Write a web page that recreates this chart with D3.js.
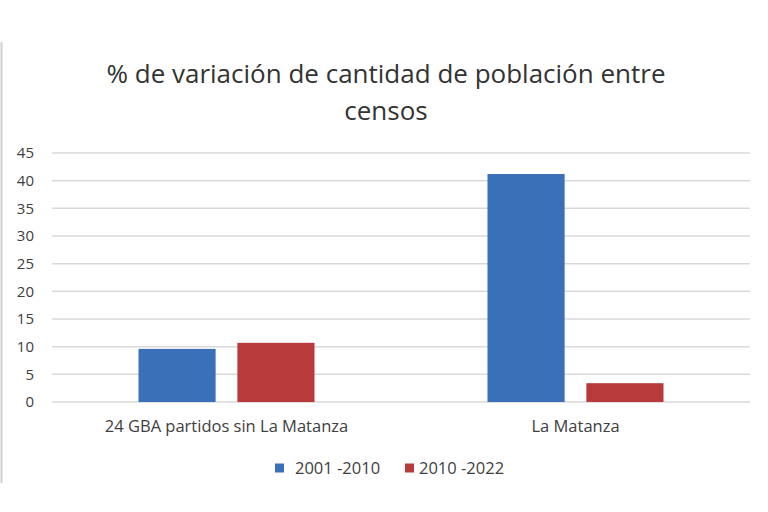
<!DOCTYPE html>
<html>
<head>
<meta charset="utf-8">
<script src="https://cdn.jsdelivr.net/npm/d3@7"></script>
<style>
  body { margin: 0; background: #fff; }
  text { font-family: "Open Sans", "Noto Sans", sans-serif; fill: #404040; }
</style>
</head>
<body>
<div id="chart"></div>
<script>
var categories = ["24 GBA partidos sin La Matanza", "La Matanza"];
var series = ["2001 -2010", "2010 -2022"];
var values2001 = [9.6, 41.2];
var values2010 = [10.7, 3.4];
var yTicks = [0, 5, 10, 15, 20, 25, 30, 35, 40, 45];
var colors = ["#3a70b7", "#b83a3a"];

var W = 768, H = 512;
var m = {top: 153, right: 18, bottom: 110, left: 52};
var width = W - m.left - m.right,
  height = H - m.top - m.bottom;

var svg = d3.select("#chart").append("svg")
  .attr("width", W)
  .attr("height", H);

// left frame line from the cropped chart border
svg.append("line")
  .attr("x1", 1.5).attr("x2", 1.5)
  .attr("y1", 42).attr("y2", 483)
  .attr("stroke", "#d0d0d0")
  .attr("stroke-width", 2);

var g = svg.append("g")
  .attr("transform", "translate(" + m.left + "," + m.top + ")");

var groupW = 176;
var x0 = d3.scaleBand().domain(categories).range([0, width]);
var x1 = d3.scaleBand().domain(series).range([0, groupW]).paddingInner(0.22);
var y = d3.scaleLinear().domain([0, 45]).range([height, 0]);

// gridlines
g.selectAll("line.grid")
  .data(yTicks)
  .enter().append("line")
  .attr("class", "grid")
  .attr("x1", 0).attr("x2", width)
  .attr("y1", function(d) { return y(d); })
  .attr("y2", function(d) { return y(d); })
  .attr("stroke", "#d9d9d9")
  .attr("stroke-width", 1.5);

// y labels
g.selectAll("text.ytick")
  .data(yTicks)
  .enter().append("text")
  .attr("class", "ytick")
  .attr("x", -18)
  .attr("y", function(d) { return y(d); })
  .attr("dy", "0.35em")
  .attr("text-anchor", "end")
  .style("font-size", "15px")
  .text(function(d) { return d; });

var data = categories.map(function(c, i) {
  return {cat: c, vals: [values2001[i], values2010[i]]};
});

var groups = g.selectAll("g.group")
  .data(data)
  .enter().append("g")
  .attr("class", "group")
  .attr("transform", function(d) {
    return "translate(" + (x0(d.cat) + (x0.bandwidth() - groupW) / 2) + ",0)";
  });

groups.selectAll("rect")
  .data(function(d) { return d.vals.map(function(v, j) { return {s: series[j], v: v, j: j}; }); })
  .enter().append("rect")
  .attr("x", function(d) { return x1(d.s); })
  .attr("width", x1.bandwidth())
  .attr("y", function(d) { return y(d.v); })
  .attr("height", function(d) { return y(0) - y(d.v); })
  .attr("fill", function(d) { return colors[d.j]; });

// category labels
g.selectAll("text.cat")
  .data(categories)
  .enter().append("text")
  .attr("class", "cat")
  .attr("x", function(d) { return x0(d) + x0.bandwidth() / 2; })
  .attr("y", height + 30)
  .attr("text-anchor", "middle")
  .style("font-size", "16.5px")
  .text(function(d) { return d; });

// title
var title = svg.append("text")
  .attr("text-anchor", "middle")
  .style("font-size", "26px")
  .style("fill", "#333");
title.append("tspan").attr("x", 386).attr("y", 83).text("% de variación de cantidad de población entre");
title.append("tspan").attr("x", 386).attr("y", 120).text("censos");

// legend
var legendX = [275, 405];
var legendTextDx = [20, 14];
var legend = svg.selectAll("g.legend")
  .data(series)
  .enter().append("g")
  .attr("class", "legend")
  .attr("transform", function(d, i) { return "translate(" + legendX[i] + ",468)"; });

legend.append("rect")
  .attr("x", 0).attr("y", -4.5)
  .attr("width", 9).attr("height", 9)
  .attr("fill", function(d, i) { return colors[i]; });

legend.append("text")
  .attr("x", function(d, i) { return legendTextDx[i]; })
  .attr("dy", "0.35em")
  .style("font-size", "16.5px")
  .text(function(d) { return d; });
</script>
</body>
</html>
